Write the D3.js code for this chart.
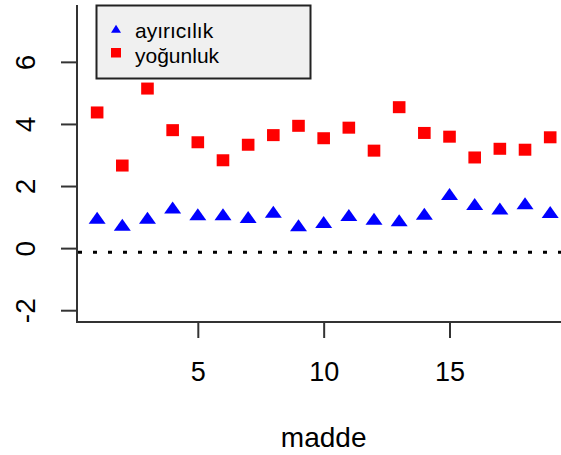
<!DOCTYPE html>
<html>
<head>
<meta charset="utf-8">
<script src="https://cdn.jsdelivr.net/npm/d3@7"></script>
<style>
  body { margin: 0; background: #fff; }
  text { font-family: "Liberation Sans", Arial, sans-serif; fill: #000; }
</style>
</head>
<body>
<script>
// veriler
var madde = [1,2,3,4,5,6,7,8,9,10,11,12,13,14,15,16,17,18,19];
var ayiricilik = [0.91,0.69,0.91,1.24,1.03,1.03,0.94,1.11,0.67,0.78,1.00,0.88,0.83,1.04,1.68,1.36,1.21,1.38,1.10];
var yogunluk = [4.37,2.66,5.14,3.80,3.41,2.83,3.33,3.64,3.94,3.54,3.88,3.14,4.54,3.71,3.59,2.92,3.20,3.17,3.57];
var xTicks = [5,10,15];
var yTicks = [-2,0,2,4,6];
var refLine = -0.13;
var seriesNames = ["ayırıcılık", "yoğunluk"];

var W = 561, H = 455;
var plotLeft = 77, plotBottom = 322, plotTop = 3.5;

// x: 1..19 artı %4 pay, sağ kenar resimden taşıyor
var xScale = d3.scaleLinear().domain([0.2, 19.8]).range([plotLeft, plotLeft + 19.6 * 25.17]);
var yScale = d3.scaleLinear().domain([-2.38, 7.88]).range([plotBottom, plotTop]);

var svg = d3.select("body").append("svg")
    .attr("width", W)
    .attr("height", H);

// yatay noktalı çizgi
svg.append("line")
    .attr("x1", plotLeft + 1)
    .attr("x2", W)
    .attr("y1", yScale(refLine))
    .attr("y2", yScale(refLine))
    .attr("stroke", "#000")
    .attr("stroke-width", 3)
    .attr("stroke-dasharray", "4,11");

// eksenler (R gibi düz tire işareti)
var xAxis = d3.axisBottom(xScale).tickValues(xTicks).tickSize(16).tickFormat(String);
var yAxis = d3.axisLeft(yScale).tickValues(yTicks).tickSize(16).tickFormat(String);

var gx = svg.append("g")
    .attr("transform", "translate(0," + plotBottom + ")")
    .call(xAxis);
gx.select(".domain").remove();
gx.append("line").attr("x1", plotLeft).attr("x2", W).attr("stroke", "#333").attr("stroke-width", 2);
gx.selectAll(".tick line").attr("stroke", "#333").attr("stroke-width", 2);
gx.selectAll(".tick text")
    .attr("font-size", 27)
    .attr("fill", "#000")
    .attr("dy", null)
    .attr("y", 58.5);

var gy = svg.append("g")
    .attr("transform", "translate(" + plotLeft + ",0)")
    .call(yAxis);
gy.select(".domain").remove();
gy.append("line").attr("y1", plotTop + 1.5).attr("y2", plotBottom + 1).attr("stroke", "#333").attr("stroke-width", 2);
gy.selectAll(".tick line").attr("stroke", "#333").attr("stroke-width", 2);
gy.selectAll(".tick text")
    .attr("font-size", 28)
    .attr("fill", "#000")
    .attr("x", null)
    .attr("dy", null)
    .attr("text-anchor", "middle")
    .attr("transform", "translate(-42,0) rotate(-90)");

// eksen başlığı
svg.append("text")
    .attr("x", xScale(10))
    .attr("y", 447)
    .attr("text-anchor", "middle")
    .attr("font-size", 28)
    .text("madde");

// üçgen
function tri(w, h) {
  return "M0," + (-2 * h / 3) + "L" + (w / 2) + "," + (h / 3) + "L" + (-w / 2) + "," + (h / 3) + "Z";
}

svg.append("g").selectAll("path")
    .data(madde)
    .enter().append("path")
      .attr("d", tri(17, 12))
      .attr("fill", "#0000ff")
      .attr("transform", function(d, i) { return "translate(" + xScale(d) + "," + yScale(ayiricilik[i]) + ")"; });

svg.append("g").selectAll("rect")
    .data(madde)
    .enter().append("rect")
      .attr("x", function(d) { return xScale(d) - 6.3; })
      .attr("y", function(d, i) { return yScale(yogunluk[i]) - 6; })
      .attr("width", 12.6)
      .attr("height", 12)
      .attr("fill", "#ff0000");

// lejant
var legend = svg.append("g");
legend.append("rect")
    .attr("x", 96.5)
    .attr("y", 5.5)
    .attr("width", 214)
    .attr("height", 73)
    .attr("fill", "#f0f0f0")
    .attr("stroke", "#222")
    .attr("stroke-width", 2);

legend.append("path")
    .attr("d", tri(10, 8))
    .attr("fill", "#0000ff")
    .attr("transform", "translate(116,30)");
legend.append("rect")
    .attr("x", 111)
    .attr("y", 48)
    .attr("width", 10)
    .attr("height", 9.5)
    .attr("fill", "#ff0000");

legend.selectAll("text")
    .data(seriesNames)
    .enter().append("text")
      .attr("x", 135)
      .attr("y", function(d, i) { return 38 + i * 25; })
      .attr("font-size", 21)
      .attr("fill", "#000")
      .text(function(d) { return d; });
</script>
</body>
</html>
